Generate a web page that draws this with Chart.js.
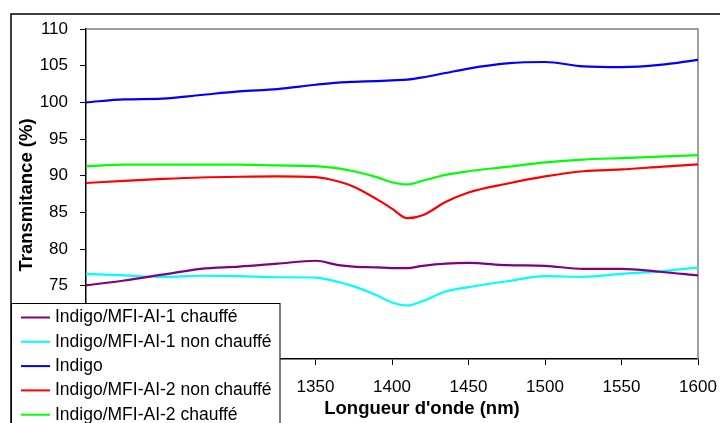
<!DOCTYPE html>
<html>
<head>
<meta charset="utf-8">
<script src="https://cdn.jsdelivr.net/npm/chart.js@4"></script>
<style>
  html, body { margin: 0; padding: 0; background: #fff; }
  #wrap { width: 720px; height: 423px; }
</style>
</head>
<body>
<div id="wrap"><canvas id="MyChart" width="720" height="423"></canvas></div>
<script>
// wavelength grid (nm) shared by every spectrum
const wavelengths = [1200, 1225, 1250, 1275, 1300, 1325, 1350, 1365, 1375, 1390, 1400,
                     1410, 1420, 1435, 1450, 1475, 1500, 1525, 1550, 1575, 1600];

const mfi1Heated   = [75.05, 75.7, 76.5, 77.3, 77.6, 78.0, 78.4, 77.8, 77.6, 77.5, 77.4,
                      77.4, 77.7, 78.0, 78.1, 77.8, 77.7, 77.3, 77.3, 76.9, 76.4];
const mfi1Unheated = [76.6, 76.4, 76.2, 76.35, 76.3, 76.15, 76.1, 75.5, 74.9, 73.7, 72.7,
                      72.3, 72.9, 74.2, 74.8, 75.6, 76.3, 76.2, 76.6, 76.95, 77.45];
const indigo       = [100.0, 100.4, 100.5, 101.0, 101.5, 101.8, 102.4, 102.7, 102.8, 102.9, 103.0,
                      103.1, 103.4, 104.0, 104.6, 105.3, 105.5, 104.9, 104.8, 105.1, 105.8];
const mfi2Unheated = [89.0, 89.3, 89.55, 89.75, 89.85, 89.9, 89.8, 89.2, 88.5, 86.8, 85.5,
                      84.2, 84.6, 86.4, 87.7, 88.9, 89.9, 90.6, 90.85, 91.2, 91.55];
const mfi2Heated   = [91.3, 91.5, 91.5, 91.5, 91.5, 91.4, 91.3, 91.0, 90.6, 89.8, 89.1,
                      88.8, 89.3, 90.1, 90.6, 91.2, 91.8, 92.2, 92.4, 92.6, 92.8];

const seriesLabels = ["Indigo/MFI-AI-1 chauffé", "Indigo/MFI-AI-1 non chauffé", "Indigo",
                      "Indigo/MFI-AI-2 non chauffé", "Indigo/MFI-AI-2 chauffé"];
const seriesValues = [mfi1Heated, mfi1Unheated, indigo, mfi2Unheated, mfi2Heated];
const seriesColors = ["#800080", "#00FFFF", "#0000FF", "#FF0000", "#00FF00"];

const xTitle = "Longueur d'onde (nm)";
const yTitle = "Transmitance (%)";

const FONT = "'Liberation Sans', Arial, sans-serif";

// frame round the whole chart, gray top/right edge of the plot, titles and legend box
const decorations = {
    id: "decorations",
    beforeDraw(chart) {
        const c = chart.ctx;
        c.save();
        c.strokeStyle = "#000";
        c.lineWidth = 1.5;
        c.strokeRect(11, 14, 740, 440);
        c.restore();
    },
    beforeDatasetsDraw(chart) {
        const a = chart.chartArea;
        const c = chart.ctx;
        c.save();
        c.strokeStyle = "#808080";
        c.lineWidth = 1.5;
        c.beginPath();
        c.moveTo(a.left, a.top);
        c.lineTo(a.right, a.top);
        c.lineTo(a.right, a.bottom);
        c.stroke();
        c.restore();
    },
    afterDraw(chart) {
        const c = chart.ctx;
        c.save();
        c.fillStyle = "#000";
        c.font = "bold 18.5px " + FONT;
        c.textAlign = "center";
        c.textBaseline = "middle";
        c.fillText(xTitle, 422, 409);
        c.translate(27, 195);
        c.rotate(-Math.PI / 2);
        c.fillText(yTitle, 0, 0);
        c.restore();

        // legend
        c.save();
        c.fillStyle = "#fff";
        c.fillRect(11, 303, 269, 130);
        c.strokeStyle = "#000";
        c.lineWidth = 1;
        c.strokeRect(11.5, 303.5, 268.5, 130);
        c.font = "17.5px " + FONT;
        c.textAlign = "left";
        c.textBaseline = "middle";
        chart.data.datasets.forEach((ds, i) => {
            const y = 317.5 + i * 24.3;
            c.strokeStyle = ds.borderColor;
            c.lineWidth = 2;
            c.beginPath();
            c.moveTo(21, y);
            c.lineTo(50, y);
            c.stroke();
            c.fillStyle = "#000";
            c.fillText(ds.label, 55, y);
        });
        c.restore();
    }
};

const ctx = document.getElementById("MyChart").getContext("2d");

new Chart(ctx, {
    type: "line",
    data: {
        datasets: seriesLabels.map((label, i) => ({
            label: label,
            data: wavelengths.map((w, j) => ({ x: w, y: seriesValues[i][j] })),
            borderColor: seriesColors[i],
            borderWidth: 2.2,
            pointRadius: 0,
            fill: false,
            cubicInterpolationMode: "monotone"
        }))
    },
    options: {
        responsive: false,
        animation: false,
        layout: { padding: { left: 0, top: 29, right: 22, bottom: 0 } },
        plugins: {
            legend: { display: false },
            tooltip: { enabled: false }
        },
        scales: {
            x: {
                type: "linear",
                min: 1200,
                max: 1600,
                afterFit(scale) {
                    scale.height = 64;
                    scale.paddingLeft = 0;
                    scale.paddingRight = 0;
                },
                ticks: {
                    stepSize: 50,
                    color: "#000",
                    padding: 12,
                    maxRotation: 0,
                    callback: (v) => String(v),
                    font: { family: FONT, size: 17 }
                },
                grid: { drawOnChartArea: false, drawTicks: true, tickLength: 6, color: "#000" },
                border: { color: "#000", width: 1.5 }
            },
            y: {
                min: 65,
                max: 110,
                afterFit(scale) { scale.width = 86; },
                ticks: {
                    stepSize: 5,
                    color: "#000",
                    padding: 12,
                    font: { family: FONT, size: 17 }
                },
                grid: { drawOnChartArea: false, drawTicks: true, tickLength: 6, color: "#000" },
                border: { color: "#000", width: 1.5 }
            }
        }
    },
    plugins: [decorations]
});
</script>
</body>
</html>
